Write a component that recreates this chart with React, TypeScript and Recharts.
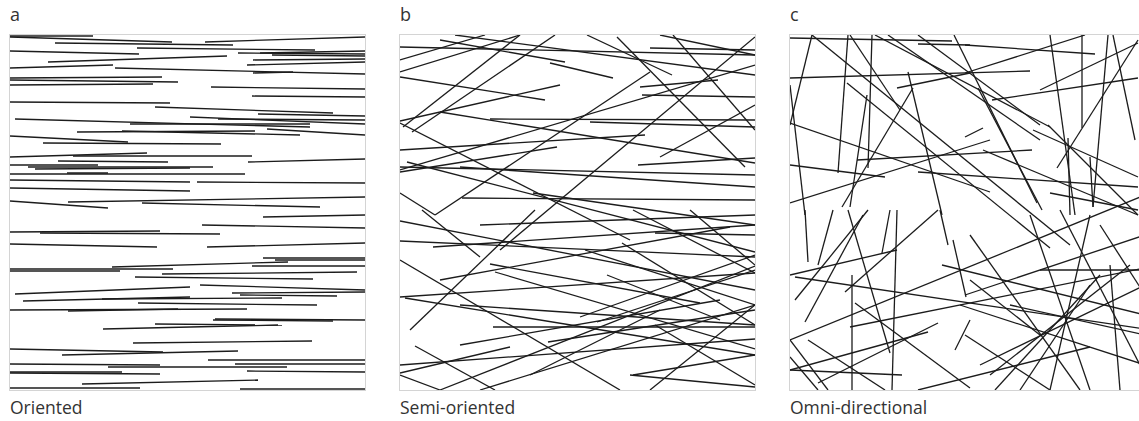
import React from "react";
import { ScatterChart, XAxis, YAxis, ReferenceLine } from "recharts";

// segments are [x1, y1, x2, y2] in panel units (0..355, y measured from the top)
const orientedSegments = [
  [0, 1, 83, 1], [0, 2, 162, 7], [45, 8, 223, 10], [195, 7, 355, 2], [127, 13, 305, 15],
  [228, 18, 355, 19], [250, 18, 355, 16], [262, 20, 355, 21], [0, 16, 129, 19], [38, 27, 217, 21],
  [243, 25, 355, 24], [237, 30, 355, 27], [0, 33, 103, 30], [105, 33, 355, 39], [243, 38, 283, 37],
  [0, 43, 152, 42], [0, 45, 168, 47], [0, 50, 143, 49], [201, 52, 355, 54], [242, 61, 355, 62],
  [0, 67, 160, 68], [145, 72, 323, 78], [248, 79, 355, 81], [180, 82, 355, 89], [208, 84, 355, 85],
  [5, 84, 300, 92], [120, 89, 300, 89], [67, 97, 245, 96], [112, 96, 290, 100], [257, 94, 355, 100],
  [0, 101, 118, 107], [33, 108, 211, 109], [0, 122, 137, 118], [63, 121, 242, 121], [238, 127, 355, 124],
  [48, 126, 158, 127], [0, 130, 88, 130], [18, 132, 203, 132], [25, 134, 180, 133], [57, 138, 98, 138],
  [0, 139, 235, 139], [0, 145, 180, 147], [187, 147, 355, 148], [0, 153, 180, 156], [0, 166, 98, 173],
  [58, 167, 355, 162], [132, 168, 310, 172], [0, 197, 150, 196], [30, 198, 210, 199], [253, 182, 355, 180],
  [192, 190, 355, 193], [0, 209, 147, 212], [197, 212, 355, 208], [253, 223, 355, 223], [265, 225, 355, 225],
  [102, 232, 278, 227], [242, 231, 355, 231], [0, 234, 163, 234], [0, 236, 110, 236], [152, 239, 347, 237],
  [125, 242, 303, 244], [190, 250, 355, 255], [5, 259, 180, 252], [222, 258, 355, 257], [230, 260, 327, 261],
  [13, 266, 180, 262], [92, 264, 272, 263], [128, 268, 307, 270], [0, 275, 237, 274], [58, 276, 168, 274],
  [205, 284, 355, 285], [203, 285, 323, 286], [145, 289, 272, 290], [93, 294, 268, 290], [123, 308, 302, 306],
  [0, 314, 153, 317], [52, 320, 228, 316], [198, 325, 355, 325], [225, 329, 355, 329], [0, 329, 150, 330],
  [98, 332, 277, 332], [237, 336, 355, 337], [0, 337, 112, 337], [0, 338, 150, 339], [72, 349, 248, 345],
  [0, 353, 130, 353], [230, 354, 355, 354],
];

const semiSegments = [
  [55, 0, 355, 40], [40, 5, 165, 27], [0, 12, 355, 20], [0, 25, 85, 0], [0, 37, 120, 0],
  [0, 42, 145, 65], [0, 86, 160, 50], [3, 92, 120, 0], [12, 97, 155, 0], [0, 88, 230, 205],
  [40, 77, 355, 128], [0, 135, 355, 30], [0, 132, 355, 140], [0, 137, 157, 112], [7, 127, 355, 217],
  [0, 158, 35, 180], [35, 180, 250, 37], [62, 163, 355, 165], [133, 158, 355, 190], [187, 0, 272, 40],
  [217, 2, 345, 132], [260, 0, 355, 20], [273, 0, 355, 95], [250, 13, 355, 15], [150, 28, 213, 43],
  [240, 52, 318, 45], [242, 60, 355, 62], [260, 122, 355, 70], [238, 130, 355, 123], [100, 215, 355, 2],
  [90, 84, 355, 85], [190, 87, 355, 92], [0, 115, 245, 100], [60, 132, 355, 152], [0, 186, 355, 255],
  [0, 206, 355, 222], [33, 212, 355, 190], [22, 175, 80, 222], [10, 295, 135, 175], [0, 225, 220, 355],
  [95, 237, 355, 314], [0, 262, 355, 238], [5, 263, 355, 320], [60, 270, 355, 290], [93, 292, 355, 292],
  [0, 330, 355, 304], [15, 311, 95, 355], [0, 338, 110, 312], [0, 340, 40, 355], [40, 355, 355, 231],
  [148, 307, 355, 275], [130, 340, 260, 275], [80, 190, 355, 180], [233, 175, 355, 238], [290, 175, 355, 230],
  [255, 198, 355, 200], [185, 215, 355, 270], [40, 245, 330, 192], [180, 282, 355, 220], [197, 287, 355, 235],
  [222, 208, 355, 290], [90, 229, 300, 268], [60, 310, 320, 265], [80, 355, 355, 270], [250, 355, 355, 270],
  [230, 340, 355, 352], [233, 340, 355, 320], [255, 290, 355, 350], [207, 240, 320, 285],
];

const omniSegments = [
  [0, 3, 162, 6], [128, 9, 180, 10], [0, 43, 240, 36], [22, 0, 0, 90], [22, 0, 280, 210],
  [58, 0, 48, 138], [60, 0, 110, 75], [82, 0, 78, 133], [85, 0, 260, 92], [98, 0, 250, 105],
  [128, 0, 250, 90], [0, 50, 15, 180], [0, 88, 200, 157], [0, 130, 95, 142], [0, 168, 200, 105],
  [107, 53, 180, 38], [118, 37, 152, 180], [123, 53, 52, 172], [57, 48, 260, 213], [77, 60, 60, 172],
  [128, 137, 348, 152], [67, 125, 242, 115], [175, 10, 305, 19], [175, 38, 295, 0], [260, 0, 285, 180],
  [292, 0, 292, 93], [318, 0, 303, 172], [323, 0, 345, 105], [267, 133, 348, 5], [202, 65, 348, 43],
  [250, 55, 348, 8], [164, 0, 247, 168], [188, 53, 252, 175], [175, 102, 193, 93], [243, 95, 348, 142],
  [258, 90, 348, 180], [278, 103, 280, 180], [300, 122, 303, 172], [260, 158, 348, 175], [193, 115, 348, 180],
  [15, 175, 18, 227], [28, 230, 43, 175], [5, 265, 78, 175], [15, 287, 73, 180], [0, 240, 107, 215],
  [5, 242, 355, 294], [62, 240, 62, 355], [55, 257, 148, 175], [58, 175, 100, 318], [107, 175, 102, 355],
  [92, 218, 100, 175], [0, 305, 355, 160], [60, 292, 355, 233], [65, 268, 180, 353], [18, 305, 95, 355],
  [0, 305, 38, 355], [0, 335, 138, 297], [0, 335, 112, 340], [0, 322, 28, 355], [28, 348, 148, 288],
  [152, 230, 355, 280], [163, 205, 176, 262], [165, 315, 180, 285], [128, 355, 300, 312], [150, 175, 158, 210],
  [175, 260, 355, 200], [200, 340, 340, 230], [230, 355, 300, 250], [270, 175, 350, 330], [180, 200, 290, 355],
  [300, 180, 260, 355], [310, 190, 355, 260], [220, 270, 355, 300], [250, 235, 355, 235], [175, 300, 260, 355],
  [320, 230, 330, 355], [180, 245, 250, 300], [190, 330, 355, 250], [205, 355, 310, 240], [240, 180, 300, 355],
  [170, 270, 355, 330],
];

const panelLetters = ["a", "b", "c"];
const panelTitles = ["Oriented", "Semi-oriented", "Omni-directional"];
const panelData = [orientedSegments, semiSegments, omniSegments];

const SIZE = 355;
const LEFTS = [10, 400, 790];

const Panel = ({ segments }: { segments: number[][] }) => (
  <ScatterChart width={SIZE} height={SIZE} margin={{ top: 0, right: 0, bottom: 0, left: 0 }}>
    <XAxis type="number" dataKey="x" domain={[0, SIZE]} hide allowDataOverflow />
    <YAxis type="number" dataKey="y" domain={[0, SIZE]} reversed hide allowDataOverflow />
    {segments.map((s, i) => (
      <ReferenceLine
        key={i}
        segment={[{ x: s[0], y: s[1] }, { x: s[2], y: s[3] }]}
        stroke="#1c1c1c"
        strokeWidth={1.3}
        ifOverflow="hidden"
      />
    ))}
  </ScatterChart>
);

export default function App() {
  return (
    <div
      style={{
        position: "fixed",
        left: 0,
        top: 0,
        width: 1139,
        height: 421,
        overflow: "hidden",
        background: "#fff",
        fontFamily: "'Open Sans', sans-serif",
        color: "#333",
      }}
    >
      {panelData.map((segs, i) => (
        <React.Fragment key={i}>
          <div style={{ position: "absolute", left: LEFTS[i], top: 2, fontSize: 18 }}>
            {panelLetters[i]}
          </div>
          <div
            style={{
              position: "absolute",
              left: LEFTS[i] - 1,
              top: 34,
              width: SIZE,
              height: SIZE,
              border: "1px solid #d4d4d4",
            }}
          >
            <Panel segments={segs} />
          </div>
          <div style={{ position: "absolute", left: LEFTS[i], top: 395, fontSize: 17.5 }}>
            {panelTitles[i]}
          </div>
        </React.Fragment>
      ))}
    </div>
  );
}
